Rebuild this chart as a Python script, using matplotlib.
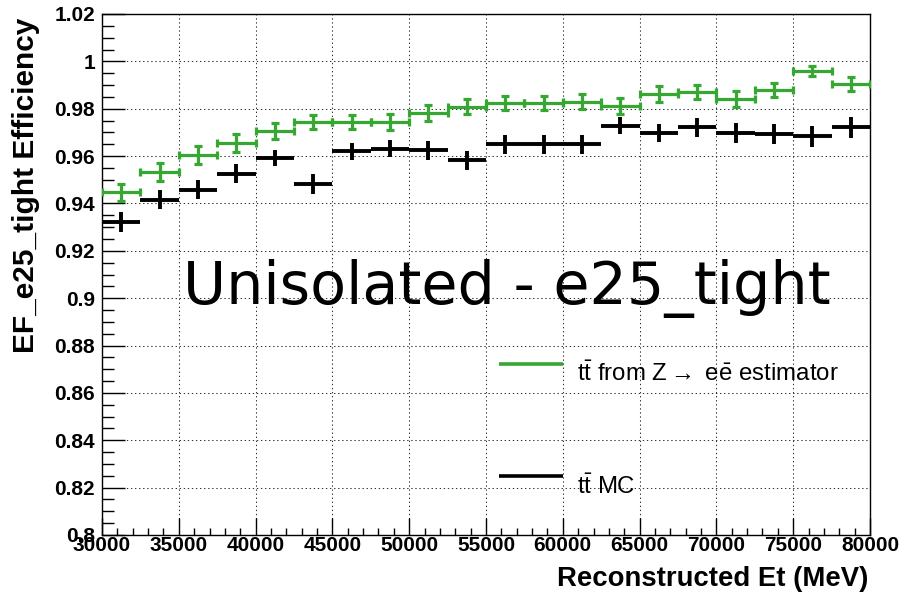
import numpy as np
import matplotlib
matplotlib.use("Agg")
import matplotlib.pyplot as plt
from matplotlib.ticker import MultipleLocator

plt.rcParams["mathtext.fontset"] = "custom"
plt.rcParams["mathtext.rm"] = "Liberation Sans"
plt.rcParams["mathtext.it"] = "Liberation Sans:italic"
plt.rcParams["mathtext.bf"] = "Liberation Sans:bold"

# ---- data ----
bin_edges = np.arange(30000, 80001, 2500)
bin_centers = (bin_edges[:-1] + bin_edges[1:]) / 2
bin_halfwidth = np.diff(bin_edges) / 2

green_eff = [0.9447, 0.9533, 0.9606, 0.9655, 0.9707, 0.9744, 0.9744, 0.9744, 0.9781, 0.9809,
             0.9824, 0.9824, 0.9830, 0.9812, 0.9862, 0.9870, 0.9842, 0.9880, 0.9960, 0.9904]
green_err = [0.0037, 0.0039, 0.0038, 0.0037, 0.0034, 0.0030, 0.0031, 0.0032, 0.0033, 0.0031,
             0.0030, 0.0030, 0.0033, 0.0033, 0.0032, 0.0030, 0.0034, 0.0030, 0.0021, 0.0029]
black_eff = [0.9322, 0.9416, 0.9458, 0.9526, 0.9592, 0.9484, 0.9620, 0.9631, 0.9624, 0.9582,
             0.9649, 0.9649, 0.9649, 0.9729, 0.9697, 0.9721, 0.9697, 0.9693, 0.9683, 0.9721]
black_err = [0.0042, 0.0039, 0.0039, 0.0039, 0.0034, 0.0042, 0.0037, 0.0035, 0.0039, 0.0039,
             0.0039, 0.0039, 0.0039, 0.0037, 0.0038, 0.0039, 0.0041, 0.0041, 0.0043, 0.0044]

green_label = r"$\mathrm{t\bar{t}}$ from Z$\rightarrow$ $\mathrm{e\bar{e}}$ estimator"
black_label = r"$\mathrm{t\bar{t}}$ MC"
title_text = "Unisolated - e25_tight"
xlabel = "Reconstructed Et (MeV)"
ylabel = "EF_e25_tight Efficiency"

GREEN = "#36a832"
sans = ["Liberation Sans", "DejaVu Sans"]

fig = plt.figure(figsize=(9.07, 5.99), dpi=100)
fig.patch.set_facecolor("white")
ax = fig.add_axes([102/907, (599-535)/599, 768/907, (535-14)/599])

ax.errorbar(bin_centers, black_eff, xerr=bin_halfwidth, yerr=black_err, fmt="none",
            ecolor="black", elinewidth=2.8, capsize=0, zorder=3)
ax.errorbar(bin_centers, green_eff, xerr=bin_halfwidth, yerr=green_err, fmt="none",
            ecolor=GREEN, elinewidth=2.3, capsize=2.6, capthick=2.3, zorder=4)

ax.set_xlim(30000, 80000)
ax.set_ylim(0.8, 1.02)
ax.xaxis.set_major_locator(MultipleLocator(5000))
ax.xaxis.set_minor_locator(MultipleLocator(1000))
ax.yaxis.set_major_locator(MultipleLocator(0.02))
ax.yaxis.set_minor_locator(MultipleLocator(0.005))
ax.set_yticks(np.arange(0.8, 1.0201, 0.02))
ax.set_yticklabels(["0.8", "0.82", "0.84", "0.86", "0.88", "0.9", "0.92", "0.94",
                    "0.96", "0.98", "1", "1.02"])

ax.tick_params(axis="y", which="major", direction="in", length=16.5, width=1, pad=5,
               labelsize=15, right=False)
ax.tick_params(axis="y", which="minor", direction="in", length=8.5, width=1, right=False)
ax.tick_params(axis="x", which="major", direction="in", length=12, width=1, pad=1,
               labelsize=15, top=False)
ax.tick_params(axis="x", which="minor", direction="in", length=5, width=1, top=False)
for lab in ax.get_xticklabels() + ax.get_yticklabels():
    lab.set_fontfamily(sans)
    lab.set_fontweight("bold")

ax.grid(True, which="major", color="#333333", linewidth=0.75, linestyle=(0, (1.3, 2.6)))
ax.set_axisbelow(True)
for s in ax.spines.values():
    s.set_linewidth(1.0)
    s.set_color("black")

ax.set_xlabel(xlabel, fontsize=19.8, fontweight="bold", family=sans, loc="right")
ax.xaxis.set_label_coords(0.9974, -0.060)
ax.set_ylabel(ylabel, fontsize=21.5, fontweight="bold", family=sans, loc="top")
ax.yaxis.set_label_coords(-0.081, 0.993)

ax.text(0.105, 0.4425, title_text, transform=ax.transAxes, fontsize=42.3,
        family="DejaVu Sans", ha="left", va="baseline")

# legend (ROOT-style, drawn by hand)
ax.plot([0.517, 0.600], [0.3285, 0.3285], transform=ax.transAxes, color=GREEN, lw=2.6,
        solid_capstyle="butt", clip_on=False)
ax.text(0.6185, 0.295, green_label, transform=ax.transAxes, fontsize=17.3, family=sans,
        ha="left", va="baseline")
ax.plot([0.517, 0.600], [0.1135, 0.1135], transform=ax.transAxes, color="black", lw=2.6,
        solid_capstyle="butt", clip_on=False)
ax.text(0.6185, 0.0785, black_label, transform=ax.transAxes, fontsize=17.3, family=sans,
        ha="left", va="baseline")

fig.savefig("out.png", dpi=100)
